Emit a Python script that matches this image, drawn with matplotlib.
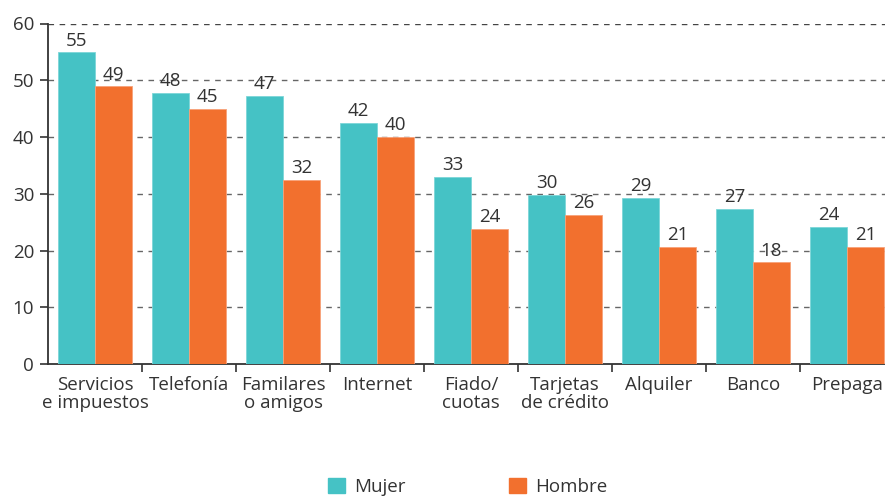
import numpy as np
import matplotlib
matplotlib.use("Agg")
import matplotlib.pyplot as plt
from matplotlib.patches import Patch

categorias = ["Servicios\ne impuestos", "Telefonía", "Familares\no amigos", "Internet",
              "Fiado/\ncuotas", "Tarjetas\nde crédito", "Alquiler", "Banco", "Prepaga"]
mujer = [54.9, 47.8, 47.2, 42.5, 33.0, 29.8, 29.3, 27.4, 24.1]
hombre = [48.9, 44.9, 32.4, 40.0, 23.8, 26.3, 20.6, 17.9, 20.7]

c_mujer = "#45C2C5"
c_hombre = "#F2702E"
txt = "#333333"
fs = 13.5

plt.rcParams["font.family"] = ["Open Sans", "DejaVu Sans"]

fig = plt.figure(figsize=(8.85, 4.97), dpi=100)
ax = fig.add_axes([48 / 885, 1 - 364 / 497, 846 / 885, (364 - 23.5) / 497])

x = np.arange(len(categorias))
w = 0.394
b1 = ax.bar(x - w / 2, mujer, w, color=c_mujer, zorder=3, edgecolor="#7dd6d8", linewidth=0.6)
b2 = ax.bar(x + w / 2, hombre, w, color=c_hombre, zorder=3, edgecolor="#f7a27a", linewidth=0.6)

for bars, vals in [(b1, mujer), (b2, hombre)]:
    for r, v in zip(bars, vals):
        ax.annotate(f"{round(v)}", (r.get_x() + r.get_width() / 2, v), xytext=(0, 2),
                    textcoords="offset points", ha="center", va="bottom",
                    fontsize=fs, color=txt)

ax.set_xlim(-0.5, len(categorias) - 0.5)
ax.set_ylim(0, 60)
ax.set_yticks(range(0, 61, 10))
for yv in range(10, 61, 10):
    ax.axhline(yv, color="#444444" if yv == 60 else "#666666", lw=1.0,
               linestyle=(0, (4, 4)), zorder=1)

ax.set_xticks(x)
ax.set_xticklabels(categorias, fontsize=fs, color=txt, linespacing=0.95)
ax.set_xticks(x[:-1] + 0.5, minor=True)
ax.tick_params(axis="x", which="major", length=0, pad=9)
ax.tick_params(axis="x", which="minor", length=6, width=1.2, color="#333333")
ax.tick_params(axis="y", length=6, width=1.2, color="#333333", labelsize=fs,
               labelcolor=txt, pad=4)

for s in ["top", "right"]:
    ax.spines[s].set_visible(False)
for s in ["left", "bottom"]:
    ax.spines[s].set_color("#333333")
    ax.spines[s].set_linewidth(1.3)

handles = [Patch(color=c_mujer, label="Mujer"), Patch(color=c_hombre, label="Hombre")]
fig.legend(handles=handles, loc="center", bbox_to_anchor=(468 / 885, 1 - 487 / 497),
           ncol=2, frameon=False, fontsize=fs, handlelength=0.9, handleheight=0.9,
           handletextpad=0.5, columnspacing=5.5, labelcolor=txt)

fig.savefig("out.png", dpi=100)
